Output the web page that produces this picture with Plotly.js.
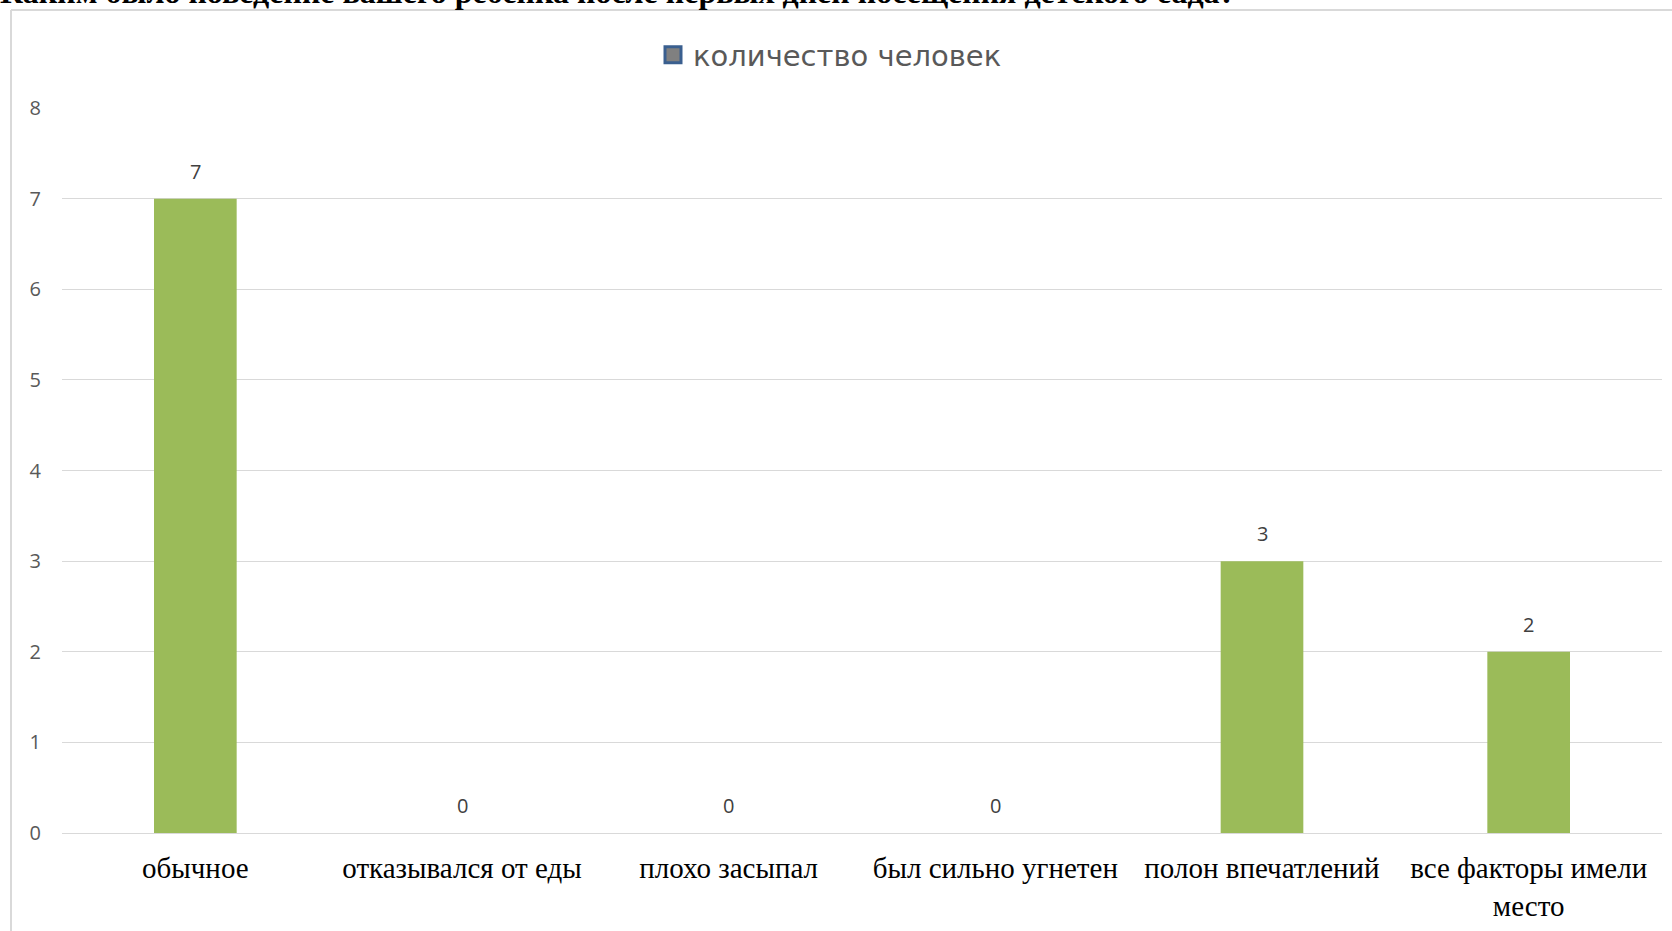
<!DOCTYPE html>
<html>
<head>
<meta charset="utf-8">
<script src="https://cdn.plot.ly/plotly-3.0.1.min.js"></script>
<style>
  html, body { margin: 0; padding: 0; background: #ffffff; overflow: hidden; }
  #chart { width: 1672px; height: 931px; }
</style>
</head>
<body>
<div id="chart"></div>
<script>
const categories = [
  "обычное",
  "отказывался от еды",
  "плохо засыпал",
  "был сильно угнетен",
  "полон впечатлений",
  "все факторы имели<br>место"
];
const values = [7, 0, 0, 0, 3, 2];
const seriesName = "количество человек";
const questionText = "Каким было поведение вашего ребенка после первых дней посещения детского сада?";
const yTicks = [0, 1, 2, 3, 4, 5, 6, 7, 8];

const W = 1672, H = 931;
const mL = 62, mR = 10, mT = 108, mB = 98;
const plotW = W - mL - mR, plotH = H - mT - mB;
const px2x = p => (p - mL) / plotW;
const px2y = p => (H - mB - p) / plotH;

const barTrace = {
  type: "bar",
  x: categories,
  y: values,
  marker: { color: "#9BBB59" },
  showlegend: false,
  hoverinfo: "x+y"
};

const legendTrace = {
  type: "scatter",
  mode: "markers",
  x: categories,
  y: values.map(() => null),
  name: seriesName,
  marker: { symbol: "square", size: 16, color: "#808080", line: { color: "#3A5F8F", width: 3 } },
  showlegend: true
};

const labelAnnotations = categories.map((c, i) => ({
  x: c, y: values[i], xref: "x", yref: "y",
  text: String(values[i]),
  showarrow: false, yanchor: "bottom", yshift: 12,
  font: { family: "Open Sans, DejaVu Sans, sans-serif", size: 20, color: "#404040" }
}));

const layout = {
  width: W, height: H,
  margin: { l: mL, r: mR, t: mT, b: mB, pad: 0 },
  paper_bgcolor: "#ffffff",
  plot_bgcolor: "#ffffff",
  bargap: 0.69,
  xaxis: {
    type: "category",
    showgrid: false,
    zeroline: false,
    showline: false,
    ticks: "",
    ticklabelstandoff: 15,
    tickangle: 0,
    tickfont: { family: "Liberation Serif, Times New Roman, serif", size: 29, color: "#000000" }
  },
  yaxis: {
    range: [0, 8],
    tickvals: yTicks,
    ticktext: yTicks.map(String),
    showgrid: true,
    gridcolor: "#D9D9D9",
    gridwidth: 1,
    zeroline: true,
    zerolinecolor: "#D9D9D9",
    zerolinewidth: 1,
    showline: false,
    ticks: "",
    ticklabelstandoff: 20,
    tickfont: { family: "Open Sans, DejaVu Sans, sans-serif", size: 20, color: "#595959" },
    fixedrange: true
  },
  showlegend: true,
  legend: {
    orientation: "h",
    x: px2x(830), xanchor: "center",
    y: px2y(55), yanchor: "middle",
    font: { family: "DejaVu Sans, Verdana, sans-serif", size: 29, color: "#595959" },
    bgcolor: "rgba(0,0,0,0)"
  },
  annotations: labelAnnotations.concat([{
    xref: "paper", yref: "paper",
    x: px2x(-2), y: px2y(12), xanchor: "left", yanchor: "bottom",
    text: "<b>" + questionText + "</b>",
    showarrow: false,
    font: { family: "Liberation Serif, Times New Roman, serif", size: 32, color: "#000000" }
  }]),
  shapes: [
    { type: "line", xref: "paper", yref: "paper", x0: px2x(11), x1: px2x(11), y0: px2y(10), y1: px2y(940),
      line: { color: "#D9D9D9", width: 2 }, layer: "below" },
    { type: "line", xref: "paper", yref: "paper", x0: px2x(11), x1: px2x(1680), y0: px2y(10), y1: px2y(10),
      line: { color: "#D9D9D9", width: 2 }, layer: "below" }
  ],
  hovermode: false
};

Plotly.newPlot("chart", [barTrace, legendTrace], layout, { displayModeBar: false, staticPlot: true });
</script>
</body>
</html>
